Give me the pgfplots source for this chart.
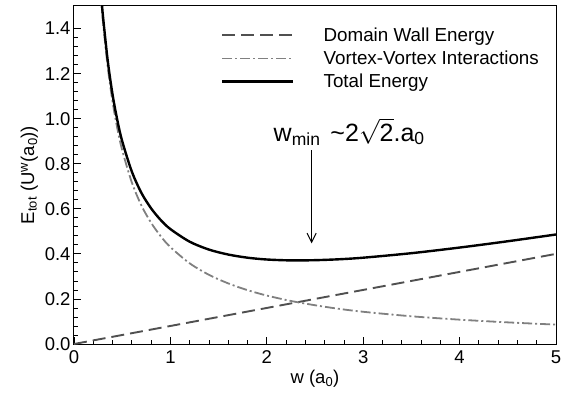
\documentclass[border=0pt]{standalone}
\usepackage{pgfplots}
\pgfplotsset{compat=1.18}
\usepackage{fontspec}
\setmainfont{Liberation Sans}
\usetikzlibrary{arrows.meta}
\definecolor{dwall}{HTML}{505050}
\definecolor{vortex}{HTML}{808080}
\begin{document}
\begin{tikzpicture}
\useasboundingbox (-74bp,-56bp) rectangle (491bp,344bp);
\begin{axis}[
  scale only axis, width=482bp, height=338bp,
  xmin=0, xmax=5, ymin=0, ymax=1.5,
  xtick={0,1,2,3,4,5}, ytick={0,0.2,0.4,0.6,0.8,1.0,1.2,1.4},
  minor x tick num=4, minor y tick num=4,
  tick pos=left, tick align=inside,
  major tick length=7bp, minor tick length=4bp,
  tick style={black, line width=0.8bp},
  yticklabel style={/pgf/number format/.cd, fixed, fixed zerofill, precision=1},
  /pgf/number format/assume math mode=true,
  ticklabel style={font=\fontsize{18.5bp}{21bp}\selectfont},
  xticklabel style={yshift=-3bp},
  xlabel={w (a\textsubscript{0})},
  ylabel={E\textsubscript{tot} (U\textsuperscript{w}(a\textsubscript{0}))},
  label style={font=\fontsize{18.5bp}{21bp}\selectfont},
  axis line style={line width=1bp},
  legend style={draw=none, fill=none, at={(0.305,0.942)}, anchor=north west,
    font=\fontsize{18.8bp}{22bp}\selectfont, inner sep=0pt, row sep=4bp,
    /tikz/every odd column/.append style={column sep=27bp}},
  legend cell align=left,
  legend image code/.code={\draw[#1] (0bp,0bp) -- (71bp,0bp);},
]
\addplot[dwall, line width=1.9bp, dash pattern=on 13bp off 6bp] coordinates {
(0,0) (1,0.08) (2,0.16) (3,0.24) (4,0.32) (5,0.40)};
\addlegendentry{Domain Wall Energy}
\addplot[vortex, line width=1.8bp, dash pattern=on 10bp off 3bp on 2bp off 3bp, smooth] coordinates {
(0.28,1.536) (0.30,1.433) (0.35,1.229) (0.40,1.075) (0.45,0.956) (0.50,0.860)
(0.60,0.717) (0.70,0.614) (0.80,0.538) (0.90,0.478) (1.00,0.430) (1.20,0.358)
(1.40,0.307) (1.60,0.269) (1.80,0.239) (2.00,0.215) (2.25,0.191) (2.50,0.172)
(2.75,0.156) (3.00,0.143) (3.50,0.123) (4.00,0.108) (4.50,0.096) (5.00,0.086)};
\addlegendentry{Vortex-Vortex Interactions}
\addplot[black, line width=2.4bp, smooth] coordinates {
(0.28,1.558) (0.30,1.457) (0.35,1.257) (0.40,1.107) (0.45,0.992) (0.50,0.900)
(0.60,0.765) (0.70,0.670) (0.80,0.602) (0.90,0.550) (1.00,0.510) (1.20,0.454)
(1.40,0.419) (1.60,0.397) (1.80,0.383) (2.00,0.375) (2.25,0.371) (2.50,0.372)
(2.75,0.376) (3.00,0.383) (3.50,0.403) (4.00,0.428) (4.50,0.456) (5.00,0.486)};
\addlegendentry{Total Energy}
\draw[-{Straight Barb[length=9bp,width=9bp]}, line width=1bp] (axis cs:2.465,0.86) -- (axis cs:2.465,0.447);
\node[anchor=base west, inner sep=0pt, font=\fontsize{25bp}{29bp}\selectfont] at (axis cs:2.07,0.90)
  {w\textsubscript{min}\hspace{0.4em}\textasciitilde 2$\sqrt{\mbox{2}}$.a\textsubscript{0}};
\end{axis}
\end{tikzpicture}
\end{document}
